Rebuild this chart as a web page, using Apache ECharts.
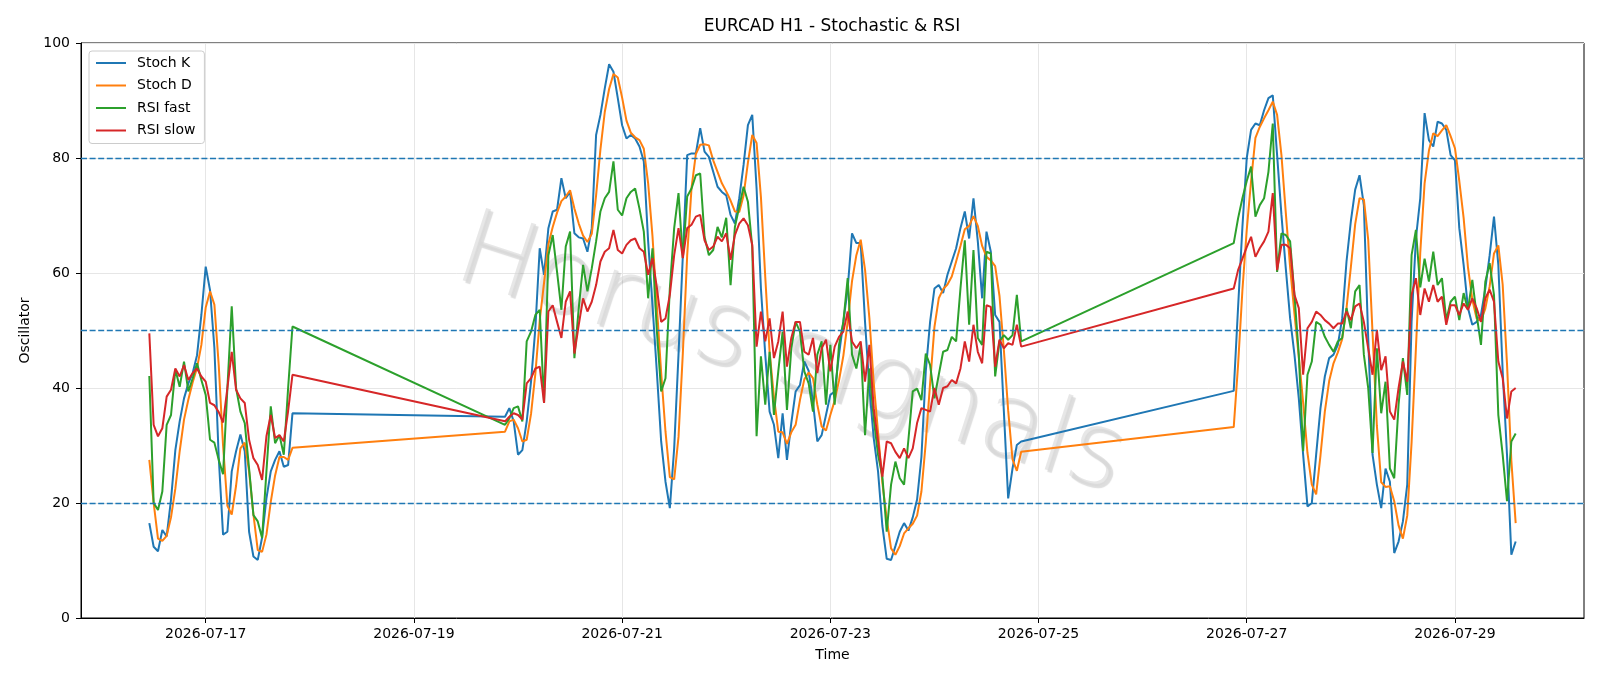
<!DOCTYPE html>
<html>
<head>
<meta charset="utf-8">
<title>EURCAD H1 - Stochastic &amp; RSI</title>
<script src="https://cdn.jsdelivr.net/npm/echarts@6.0.0/dist/echarts.min.js"></script>
<style>
  html, body { margin: 0; padding: 0; background: #fff; }
  #main { width: 1600px; height: 686px; }
</style>
</head>
<body>
<div id="main"></div>
<script>
// hourly bars, three trading blocks (weekends are skipped)
var segStart = ['2026-07-16T11:00:00Z', '2026-07-19T21:00:00Z', '2026-07-26T21:00:00Z'];
var segHours = [34, 120, 66];
var tickDays = ['2026-07-17', '2026-07-19', '2026-07-21', '2026-07-23', '2026-07-25', '2026-07-27', '2026-07-29'];
var levels = [20, 50, 80];

var stochK = [
  // block 1
  16.5,12.4,11.6,15.3,14.2,20.6,29.2,34.2,38.2,40.8,42.6,45.7,52.7,61.1,57,47,28,14.5,15,25.5,
  29,31.9,29,15,10.7,10.1,14,20.8,25.5,27.5,29,26.3,26.6,35.6,
  // block 2
  35,36.5,34.2,28.4,29.2,34.2,41.1,50.4,64.3,59.7,
  67.8,70.7,71,76.5,73,74.1,66.9,66.2,66,63.7,
  67.8,84,87.5,92.1,96.3,95,90.4,85.7,83.4,84,
  83.4,82,79.4,65.5,54.4,42.9,30.7,23.7,19.1,29.5,
  45.8,63.1,80.5,80.8,80.8,85.2,81.1,80.2,77.6,75,
  74.1,73.5,70.1,68.6,73,78.8,85.7,87.5,74.7,57.3,
  45.8,35.9,33.6,27.8,35.6,27.5,33.9,39.4,40.5,44.6,
  43,37.5,30.7,31.8,35.3,38.8,39.4,45.8,51.5,57.3,
  66.9,65.2,65.2,51.5,40,31.3,25.5,16,10.3,10.1,
  12.5,15,16.5,15.2,17.5,20.6,28,42.9,51.5,57.3,
  57.9,56.5,59.7,62,64.3,67.8,70.7,66,73,65.5,
  55.6,67.2,63.7,52.7,51.5,36,20.8,26,30.1,30.7,
  // block 3
  39.5,54,68,80,84.9,86,85.7,88.3,90.4,90.9,
  80.5,70.1,60.8,52.1,45.8,38.2,28.4,19.4,20,28.4,
  36.5,42,45.2,45.8,47.5,52.1,62,69,74.5,77,
  71.8,48.7,28.4,23.2,19.1,26,23.7,11.3,13.3,16.8,
  23.2,51.5,66,73,87.8,83.1,82,86.3,86,84.9,
  80.5,79.6,67.8,61.4,53.9,51,51.5,52.7,57.3,63.1,
  69.8,61.4,42.9,28.4,11,13.3
];

var stochD = [
  27.5,20,13.8,13.4,14.3,17.5,22.5,29,34.5,38,41,43.5,47.5,54,56.8,54.5,44,30,19.5,18,
  23,29.5,30.5,25.5,18,11.8,11.5,14.5,20.2,24.8,28,28,27.5,29.6,
  32.4,34.2,34.5,33,30.7,31,35.5,42.5,51.7,58.3,
  65,68,70.5,72.5,73.3,74.4,71.2,68.6,66.5,65.4,
  66.8,73.5,81.5,88,92,94.6,94,90.5,86.5,84.4,
  83.6,83.1,81.6,75.6,66.4,54.3,42.7,32.4,24.5,24.1,
  31.5,46.1,63.1,74.8,80.7,82.3,82.4,82.2,79.6,77.6,
  75.6,74.2,72.6,70.7,70.6,73.5,79.2,84,82.6,73.2,
  59.3,46.3,38.4,32.4,32.3,30.3,32.3,33.6,37.9,41.5,
  42.7,41.7,37.1,33.3,32.6,35.3,37.8,41.3,45.6,51.5,
  58.6,63.1,65.8,60.6,52.2,40.9,32.3,23.5,17.3,12.1,
  11,12.5,14.7,15.6,16.4,17.8,22,30.5,40.8,50.6,
  55.6,57.2,58,59.4,62,64.7,67.6,68.2,69.9,68.2,
  64.7,62.8,62.2,61.2,56,46.7,36.1,27.6,25.6,28.9,
  33.2,44,57,67.5,76,83.5,85.4,86.9,88.3,89.8,
  87.5,80.5,70.5,61,52.9,45.4,37.5,28.7,23.2,21.5,
  28.3,35.9,41.2,44.3,46.2,48.5,53.9,61,68.5,73,
  72.8,65.8,49.6,33.4,23.6,22.8,22.9,20.3,16.1,13.8,
  17.8,30.5,46.9,63.5,75.6,81.3,84.3,83.8,84.8,85.7,
  83.8,81.7,76,69.6,61,55.4,52.1,51.7,53.8,57.7,
  63.4,64.8,58,44.2,27.4,16.5
];

var rsiFast = [
  42.1,20,18.8,22,33.6,35.3,43.2,40.2,44.6,39.4,41.7,44.3,41.4,38.8,31,30.5,27.5,25,40,54.2,
  40,35.9,33.9,26,17.9,16.8,13.9,25.5,36.8,30.4,31.8,28.4,40,50.7,
  33.6,34.7,36.5,36.8,34.2,48.1,49.8,52.7,53.6,37.4,
  63.1,66.6,60.2,53.6,64.6,67.2,45.2,53.9,61.4,56.8,
  60.8,65.5,70.7,73,74.1,79.4,71,70,73,74.1,
  74.7,71.2,67.2,55.6,64.3,50,39.4,41.7,57.3,67.8,
  73.9,62.6,73.3,74.7,77,77.3,66.3,63.1,64,68,
  66.2,69.6,57.9,68,71.5,75,72.4,64.5,31.6,45.5,
  37.1,46.3,35.3,42.9,49.8,36.2,46.9,51.5,49.8,42.9,
  40.8,35.9,45.8,48.1,37.1,47.5,37.1,47.5,51.5,59.1,
  45.8,43.4,47.5,31.8,43.4,34.7,28.4,24.6,15,23.2,
  27.2,24.3,23.2,31,39.4,39.9,37.9,46,44,38.2,
  42.3,46.3,46.6,48.9,48.1,57.3,65.7,51,64,48.7,
  47.5,63.7,63.4,42,48.1,49.2,48.4,49.2,56.2,48.1,
  65.2,69.5,73,76,78.5,69.8,71.8,73,77.6,86,
  60.2,66.9,66.6,65.5,56.2,45.8,29,42.3,44.6,51.5,
  51,48.9,47.5,46.3,48.1,48.7,53.9,50.4,56.8,57.9,
  45.8,40,28.7,46.9,35.6,41.1,26,24.3,37.1,45.2,
  38.8,63.1,67.5,57.5,62.5,58.5,63.7,57.9,59.1,51.8,
  55,55.9,51.8,56.5,53.6,58.8,52.7,47.5,58.5,61.7,
  56.2,35.3,28.4,20.3,30.7,32.1
];

var rsiSlow = [
  49.5,33.6,31.6,33,38.5,39.7,43.4,42,44,41.4,42.6,43.4,42,41.1,37.4,37,35.8,34,40,46.3,
  39.7,38.2,37.4,31,27.8,26.6,24,31.6,35.3,31.3,31.8,30.7,36,42.3,
  34.2,35,35.6,35.3,34.5,40.8,41.7,43.4,43.7,37.4,
  53.3,54.4,51.5,48.7,55,56.8,46,51,55.6,53.3,
  55,57.9,62,63.7,64.3,67.5,64,63.4,64.9,65.7,
  66,64.3,63.7,59.7,62.6,57.5,51.5,52.1,56.2,63.1,
  67.8,62.6,67.8,68.4,69.8,70.1,65.7,64,64.6,66.3,
  65.5,66.9,62.3,66.6,68.6,69.5,68.3,64.9,47.2,53.3,
  48.1,52.1,45.2,48.1,53.3,43.7,48.7,51.5,51.5,46.3,
  45.8,48.7,42.6,46.9,48.4,42.9,47.2,48.9,49.8,53.3,
  48.1,46.9,48.1,41.1,47.5,36.5,30.7,24.6,30.7,30.4,
  28.9,27.8,29.5,27.8,29.5,33.9,36.5,36.2,35.9,40,
  37.1,40,40.3,41.4,40.8,43.4,48.1,44.6,51,46.3,
  44.3,54.4,54.1,43.7,48.4,46.9,47.8,47.5,51,47.2,
  57.3,60.5,62.5,64.5,66.3,62.8,64.3,65.5,67.2,73.9,
  60.5,64.9,64.9,64.3,56.2,53.9,42.3,50.4,51.5,53.3,
  52.7,51.8,51.2,50.4,51.2,51.2,53.3,51.8,54.2,54.7,
  51.5,46.9,42.3,50.1,43.1,45.5,35.9,34.5,40,44.6,
  41.1,56.2,59.1,52.7,57.3,55,57.9,55,55.9,51,
  54.4,54.4,52.7,54.7,53.6,55.6,53.9,51.5,55.6,57.1,
  55,44.6,41.7,34.7,39.4,40
];

var FONT = '"DejaVu Sans", sans-serif';

var times = [];
for (var s = 0; s < segStart.length; s++) {
  var t0 = Date.parse(segStart[s]);
  for (var i = 0; i < segHours[s]; i++) times.push(t0 + i * 3600000);
}
function pairs(vals) {
  return vals.map(function (v, i) { return [times[i], v]; });
}
function pad(n) { return n < 10 ? '0' + n : '' + n; }
function dayLabel(v) {
  var d = new Date(v);
  return d.getUTCFullYear() + '-' + pad(d.getUTCMonth() + 1) + '-' + pad(d.getUTCDate());
}
var tickVals = tickDays.map(function (d) { return Date.parse(d + 'T00:00:00Z'); });

function lineSeries(name, vals, color) {
  return {
    name: name, type: 'line', data: pairs(vals),
    showSymbol: false, symbol: 'none',
    lineStyle: { width: 2, color: color }, itemStyle: { color: color },
    emphasis: { disabled: true }, animation: false, z: 3
  };
}

var series = [
  lineSeries('Stoch K', stochK, '#1f77b4'),
  lineSeries('Stoch D', stochD, '#ff7f0e'),
  lineSeries('RSI fast', rsiFast, '#2ca02c'),
  lineSeries('RSI slow', rsiSlow, '#d62728')
];
series[3].markLine = {
  silent: true, symbol: ['none', 'none'], animation: false,
  label: { show: false },
  lineStyle: { type: [6, 2.6], color: '#1f77b4', width: 1.3, opacity: 1 },
  data: levels.map(function (v) { return { yAxis: v }; })
};

var chart = echarts.init(document.getElementById('main'));
chart.setOption({
  animation: false,
  backgroundColor: '#fff',
  textStyle: { fontFamily: FONT },
  grid: { left: 81, right: 16, top: 43, bottom: 68, show: true, borderColor: '#000', borderWidth: 1, backgroundColor: 'transparent' },
  legend: {
    orient: 'vertical', left: 89, top: 51,
    itemWidth: 30, itemHeight: 14, itemGap: 8.5,
    padding: [5, 9, 6, 6],
    backgroundColor: 'rgba(255,255,255,0.8)', borderColor: '#cccccc', borderWidth: 1, borderRadius: 3,
    itemStyle: { opacity: 0 },
    textStyle: { fontFamily: FONT, fontSize: 14, color: '#000', padding: [0, 0, 0, 6] },
    data: ['Stoch K', 'Stoch D', 'RSI fast', 'RSI slow']
  },
  xAxis: {
    type: 'value',
    min: Date.parse('2026-07-15T19:15:00Z'),
    max: Date.parse('2026-07-30T05:45:00Z'),
    axisLine: { show: true, onZero: false, lineStyle: { color: '#000', width: 1 } },
    axisTick: { show: true, length: 5, lineStyle: { color: '#000' }, customValues: tickVals },
    axisLabel: { customValues: tickVals, formatter: dayLabel, color: '#000', fontSize: 14, fontFamily: FONT, margin: 9 },
    splitLine: { show: true, lineStyle: { color: '#e6e6e6', width: 1 } },
    name: 'Time', nameLocation: 'middle', nameGap: 30,
    nameTextStyle: { color: '#000', fontSize: 14, fontFamily: FONT }
  },
  yAxis: {
    type: 'value', min: 0, max: 100, interval: 20,
    axisLine: { show: true, lineStyle: { color: '#000', width: 1 } },
    axisTick: { show: true, length: 5, lineStyle: { color: '#000' } },
    axisLabel: { color: '#000', fontSize: 14, fontFamily: FONT, margin: 11 },
    splitLine: { show: true, lineStyle: { color: '#e6e6e6', width: 1 } },
    name: 'Oscillator', nameLocation: 'middle', nameGap: 48, nameRotate: 90,
    nameTextStyle: { color: '#000', fontSize: 14, fontFamily: FONT }
  },
  graphic: [
    {
      type: 'text', x: 832, y: 27, silent: true,
      style: { text: 'EURCAD H1 - Stochastic & RSI', fontSize: 17, fontFamily: FONT, fill: '#000', align: 'center', verticalAlign: 'middle' }
    },
    {
      type: 'text', x: 790, y: 358, rotation: -0.314, silent: true, z: 1,
      style: {
        text: 'Horus signals', fontSize: 104, fontWeight: 200,
        fontFamily: '"DejaVu Sans ExtraLight", "DejaVu Sans", sans-serif',
        fill: 'rgba(215,215,215,0.6)',
        align: 'center', verticalAlign: 'middle',
        textShadowColor: 'rgba(0,0,0,0.22)', textShadowOffsetX: 2.5, textShadowOffsetY: 2.5, textShadowBlur: 1
      }
    }
  ],
  series: series
});
</script>
</body>
</html>
